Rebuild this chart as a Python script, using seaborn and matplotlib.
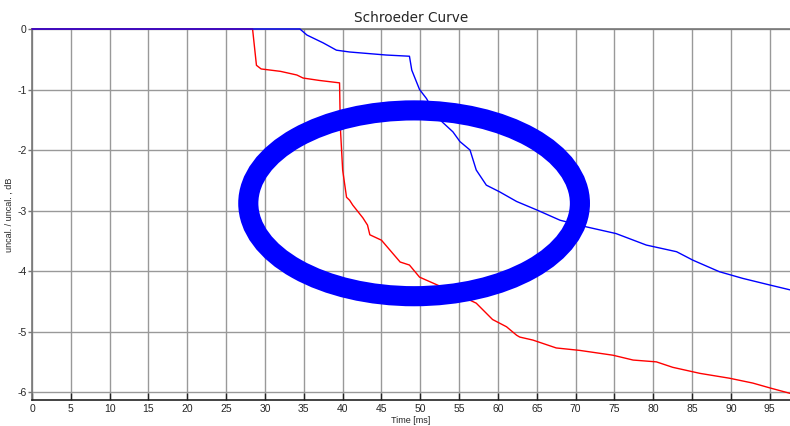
import matplotlib
matplotlib.use("Agg")
import matplotlib.pyplot as plt
import numpy as np
import pandas as pd
import seaborn as sns
from matplotlib.patches import Ellipse

# values
red_time = [0, 28.4, 28.9, 29.5, 32.0, 34.1, 34.9, 37.0, 39.6, 39.7, 40.0, 40.5,
            40.9, 41.3, 42.6, 43.2, 43.5, 45.0, 47.4, 48.6, 49.9, 52.9, 57.2,
            59.3, 60.2, 61.1, 62.4, 62.8, 64.5, 67.5, 70.5, 74.8, 77.4, 80.4,
            82.5, 86.0, 89.8, 92.8, 95.0, 97.6]
red_level = [0, 0, -0.60, -0.66, -0.70, -0.76, -0.81, -0.85, -0.89, -1.62,
             -2.33, -2.78, -2.83, -2.91, -3.12, -3.24, -3.40, -3.49, -3.85,
             -3.90, -4.10, -4.27, -4.53, -4.80, -4.86, -4.92, -5.06, -5.09,
             -5.14, -5.27, -5.31, -5.39, -5.47, -5.50, -5.59, -5.69, -5.77,
             -5.85, -5.93, -6.02]

blue_time = [0, 34.5, 35.4, 37.5, 39.2, 40.9, 45.6, 48.6, 48.9, 49.9, 50.8,
             52.1, 54.2, 55.1, 56.4, 57.2, 58.5, 60.2, 62.4, 65.0, 68.0, 71.4,
             75.2, 79.1, 83.0, 85.1, 88.5, 91.5, 95.0, 97.6]
blue_level = [0, 0, -0.10, -0.23, -0.35, -0.38, -0.43, -0.45, -0.68, -1.00,
              -1.15, -1.45, -1.70, -1.86, -2.00, -2.33, -2.58, -2.69, -2.85,
              -2.99, -3.16, -3.27, -3.38, -3.57, -3.68, -3.82, -4.01, -4.12,
              -4.23, -4.31]

x_ticks = list(range(0, 100, 5))
y_ticks = [0, -1, -2, -3, -4, -5, -6]

# highlight ring drawn over the chart
ring_center = (49.2, -2.88)
ring_width = 42.7
ring_height = 3.07

sns.set_theme(style="whitegrid")
plt.rcParams.update({"font.family": ["Liberation Sans", "DejaVu Sans"]})

red = pd.DataFrame({"t": red_time, "level": red_level})
blue = pd.DataFrame({"t": blue_time, "level": blue_level})

fig = plt.figure(figsize=(7.9, 4.26), dpi=100)
ax = fig.add_axes([32 / 790, 1 - 400 / 426, 1 - 32 / 790, (400 - 29) / 426])

sns.lineplot(data=red, x="t", y="level", color="#ff0000", linewidth=1.0,
             sort=False, estimator=None, ax=ax, zorder=3, clip_on=False)
sns.lineplot(data=blue, x="t", y="level", color="#0000ff", linewidth=1.0,
             sort=False, estimator=None, ax=ax, zorder=4, clip_on=False)

ax.add_patch(Ellipse(ring_center, ring_width, ring_height, fill=False,
                     edgecolor="#0000ff", linewidth=14.5, zorder=5))

ax.set_xlim(0, 97.6)
ax.set_ylim(-6.13, 0)
ax.set_xticks(x_ticks)
ax.set_yticks(y_ticks)
ax.set_xticklabels([str(v) for v in x_ticks], fontsize=7.5)
ax.set_yticklabels([str(v) for v in y_ticks], fontsize=7.5)
ax.grid(True, color="#999999", linewidth=1.0)
ax.set_facecolor("white")

for side in ["left", "top"]:
    ax.spines[side].set_color("#777777")
    ax.spines[side].set_linewidth(1.2)
ax.spines["bottom"].set_color("#222222")
ax.spines["bottom"].set_linewidth(1.2)
ax.spines["right"].set_visible(False)

ax.tick_params(axis="x", direction="in", length=5, width=1, color="#222222",
               pad=3, bottom=True)
ax.tick_params(axis="y", direction="out", length=3, width=1, color="#777777",
               pad=1, left=True)

ax.set_xlabel("Time [ms]", fontsize=6.5, labelpad=1)
ax.set_ylabel("uncal. / uncal. , dB", fontsize=6.5, labelpad=2)
ax.set_title("Schroeder Curve", fontsize=9.8, family="DejaVu Sans", pad=5)

fig.savefig("out.png", dpi=100, facecolor="white")
